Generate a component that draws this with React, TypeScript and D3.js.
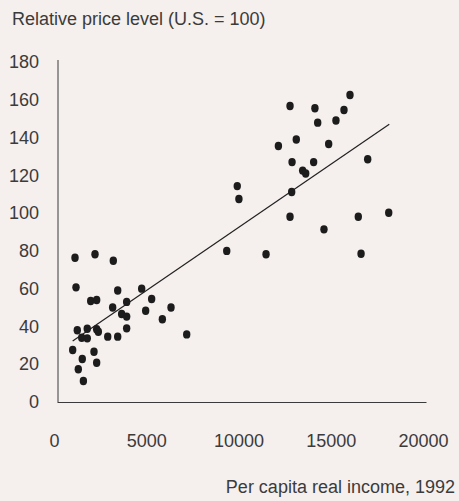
import React, { useEffect, useRef } from "react";
import * as d3 from "d3";

// per capita real income (1992) and relative price level (U.S. = 100)
const incomeX = [
  976, 2060, 3052, 1030, 3290, 1826, 2150, 4590, 5130, 3776, 3017, 3505, 3776,
  4806, 6180, 5710, 3776, 7030, 1100, 1640, 2150, 2240, 1340, 1640, 2750, 3290,
  850, 1370, 2005, 2150, 1155, 1430, 9200,
  15880, 12630, 13980, 15555, 14130, 15120, 12000, 12970, 14725, 12740, 13910,
  16840, 13315, 13480, 9770, 9860, 12720, 12630, 16330, 17980, 14470, 11330,
  16480,
];
const priceY = [
  76.4, 78.2, 74.8, 60.7, 59, 53.5, 54, 60, 54.5, 53, 50, 46.6, 45.2,
  48.3, 50, 43.8, 39, 35.8, 38, 38.8, 38.5, 37.2, 34, 33.7, 34.6, 34.6,
  27.5, 22.8, 26.6, 20.8, 17.3, 11.1, 80,
  162.5, 156.7, 155.5, 154.6, 147.9, 149, 135.5, 139, 136.6, 127, 127,
  128.5, 122.5, 121, 114.3, 107.5, 111.2, 98.1, 98.1, 100.2, 91.4, 78.2,
  78.5,
];

// fitted trend line end points
const fitX = [850, 18010];
const fitY = [32.3, 147];

const xTicks = [0, 5000, 10000, 15000, 20000];
const yTicks = [0, 20, 40, 60, 80, 100, 120, 140, 160, 180];

const W = 459;
const H = 501;
const ink = "#3b3b3b";
const font = "'Liberation Sans', Arial, sans-serif";
const fs = 18;

export default function App() {
  const svgRef = useRef<SVGSVGElement>(null);

  useEffect(() => {
    const svg = d3.select(svgRef.current);
    svg.selectAll("*").remove();

    svg.append("rect").attr("width", W).attr("height", H).attr("fill", "#f5efee");

    const x = d3.scaleLinear().domain([0, 20000]).range([57, 426]);
    const y = d3.scaleLinear().domain([0, 180]).range([402, 62]);

    // y axis
    const gy = svg.append("g")
      .attr("transform", `translate(${x(0) + 1},0)`)
      .call(d3.axisLeft(y).tickValues(yTicks).tickSize(0).tickPadding(19).tickFormat(d3.format("d")));
    gy.select(".domain").attr("stroke", ink).attr("stroke-width", 1).attr("d", `M0,${y(0)}V${y(180) - 2}`);
    gy.selectAll("text").attr("font-size", fs).attr("font-family", font).attr("fill", ink);

    // x axis
    const gx = svg.append("g")
      .attr("transform", `translate(0,${y(0)})`)
      .call(d3.axisBottom(x).tickValues(xTicks).tickSize(0).tickPadding(32).tickFormat(d3.format("d")));
    gx.select(".domain").attr("stroke", ink).attr("stroke-width", 1);
    gx.selectAll("text").attr("font-size", fs).attr("font-family", font).attr("fill", ink).attr("dx", -3);

    // trend line
    svg.append("line")
      .attr("x1", x(fitX[0])).attr("y1", y(fitY[0]))
      .attr("x2", x(fitX[1])).attr("y2", y(fitY[1]))
      .attr("stroke", "#222")
      .attr("stroke-width", 1.2);

    // points
    svg.append("g")
      .selectAll("ellipse")
      .data(incomeX)
      .join("ellipse")
      .attr("cx", (d) => x(d))
      .attr("cy", (_d, i) => y(priceY[i]))
      .attr("rx", 3.7)
      .attr("ry", 4.2)
      .attr("fill", "#1c1c1c");

    svg.append("text")
      .attr("x", 12).attr("y", 25)
      .attr("font-size", fs).attr("font-family", font).attr("fill", ink)
      .text("Relative price level (U.S. = 100)");

    svg.append("text")
      .attr("x", 455).attr("y", 493)
      .attr("text-anchor", "end")
      .attr("font-size", fs).attr("font-family", font).attr("fill", ink)
      .text("Per capita real income, 1992");
  }, []);

  return (
    <svg
      ref={svgRef}
      width={W}
      height={H}
      style={{ position: "fixed", left: 0, top: 0 }}
    />
  );
}
